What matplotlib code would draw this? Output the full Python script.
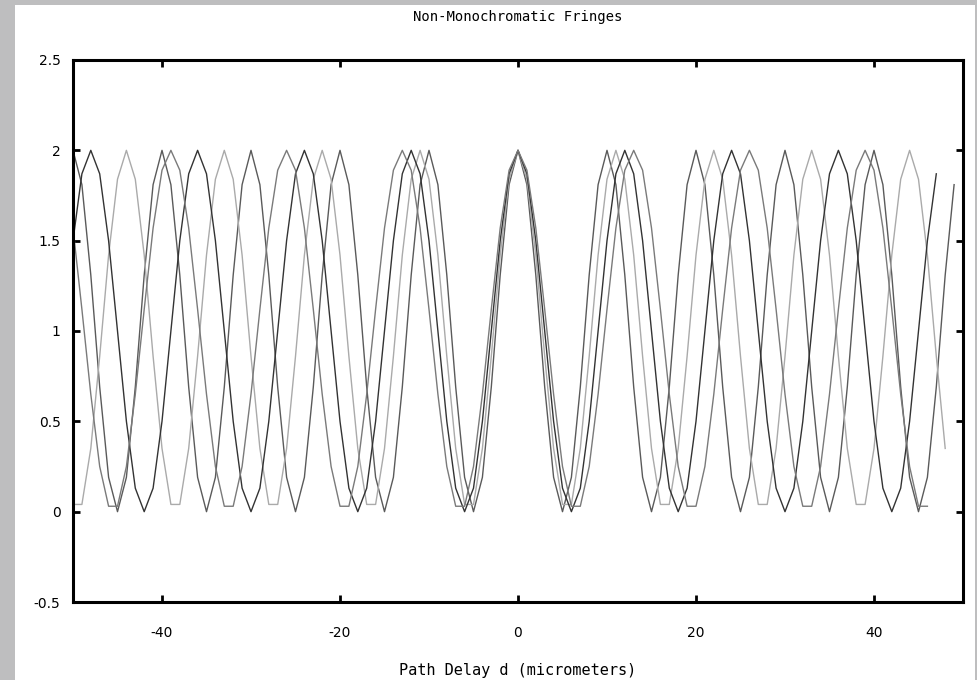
import numpy as np
import matplotlib.pyplot as plt
from matplotlib.patches import Rectangle

# fringe values, one list per wavelength (micrometers)
# every curve starts at d = -50, one sample per micrometer
fringe_10 = [
    2, 1.81, 1.31, 0.69, 0.19, 0, 0.19, 0.69, 1.31, 1.81,
    2, 1.81, 1.31, 0.69, 0.19, 0, 0.19, 0.69, 1.31, 1.81,
    2, 1.81, 1.31, 0.69, 0.19, 0, 0.19, 0.69, 1.31, 1.81,
    2, 1.81, 1.31, 0.69, 0.19, 0, 0.19, 0.69, 1.31, 1.81,
    2, 1.81, 1.31, 0.69, 0.19, 0, 0.19, 0.69, 1.31, 1.81,
    2, 1.81, 1.31, 0.69, 0.19, 0, 0.19, 0.69, 1.31, 1.81,
    2, 1.81, 1.31, 0.69, 0.19, 0, 0.19, 0.69, 1.31, 1.81,
    2, 1.81, 1.31, 0.69, 0.19, 0, 0.19, 0.69, 1.31, 1.81,
    2, 1.81, 1.31, 0.69, 0.19, 0, 0.19, 0.69, 1.31, 1.81,
    2, 1.81, 1.31, 0.69, 0.19, 0, 0.19, 0.69, 1.31, 1.81,
]

fringe_11 = [
    0.04, 0.04, 0.35, 0.86, 1.42, 1.84,
    2, 1.84, 1.42, 0.86, 0.35, 0.04, 0.04, 0.35, 0.86, 1.42, 1.84,
    2, 1.84, 1.42, 0.86, 0.35, 0.04, 0.04, 0.35, 0.86, 1.42, 1.84,
    2, 1.84, 1.42, 0.86, 0.35, 0.04, 0.04, 0.35, 0.86, 1.42, 1.84,
    2, 1.84, 1.42, 0.86, 0.35, 0.04, 0.04, 0.35, 0.86, 1.42, 1.84,
    2, 1.84, 1.42, 0.86, 0.35, 0.04, 0.04, 0.35, 0.86, 1.42, 1.84,
    2, 1.84, 1.42, 0.86, 0.35, 0.04, 0.04, 0.35, 0.86, 1.42, 1.84,
    2, 1.84, 1.42, 0.86, 0.35, 0.04, 0.04, 0.35, 0.86, 1.42, 1.84,
    2, 1.84, 1.42, 0.86, 0.35, 0.04, 0.04, 0.35, 0.86, 1.42, 1.84,
    2, 1.84, 1.42, 0.86, 0.35,
]

fringe_12 = [
    1.5, 1.87,
    2, 1.87, 1.5, 1, 0.5, 0.13, 0, 0.13, 0.5, 1, 1.5, 1.87,
    2, 1.87, 1.5, 1, 0.5, 0.13, 0, 0.13, 0.5, 1, 1.5, 1.87,
    2, 1.87, 1.5, 1, 0.5, 0.13, 0, 0.13, 0.5, 1, 1.5, 1.87,
    2, 1.87, 1.5, 1, 0.5, 0.13, 0, 0.13, 0.5, 1, 1.5, 1.87,
    2, 1.87, 1.5, 1, 0.5, 0.13, 0, 0.13, 0.5, 1, 1.5, 1.87,
    2, 1.87, 1.5, 1, 0.5, 0.13, 0, 0.13, 0.5, 1, 1.5, 1.87,
    2, 1.87, 1.5, 1, 0.5, 0.13, 0, 0.13, 0.5, 1, 1.5, 1.87,
    2, 1.87, 1.5, 1, 0.5, 0.13, 0, 0.13, 0.5, 1, 1.5, 1.87,
]

fringe_13 = [
    1.57, 1.12, 0.65, 0.25, 0.03, 0.03, 0.25, 0.65, 1.12, 1.57, 1.89,
    2, 1.89, 1.57, 1.12, 0.65, 0.25, 0.03, 0.03, 0.25, 0.65, 1.12, 1.57, 1.89,
    2, 1.89, 1.57, 1.12, 0.65, 0.25, 0.03, 0.03, 0.25, 0.65, 1.12, 1.57, 1.89,
    2, 1.89, 1.57, 1.12, 0.65, 0.25, 0.03, 0.03, 0.25, 0.65, 1.12, 1.57, 1.89,
    2, 1.89, 1.57, 1.12, 0.65, 0.25, 0.03, 0.03, 0.25, 0.65, 1.12, 1.57, 1.89,
    2, 1.89, 1.57, 1.12, 0.65, 0.25, 0.03, 0.03, 0.25, 0.65, 1.12, 1.57, 1.89,
    2, 1.89, 1.57, 1.12, 0.65, 0.25, 0.03, 0.03, 0.25, 0.65, 1.12, 1.57, 1.89,
    2, 1.89, 1.57, 1.12, 0.65, 0.25, 0.03, 0.03,
]

d_start = -50
series = [fringe_10, fringe_11, fringe_12, fringe_13]
colors = ['#5a5a5a', '#aaaaaa', '#333333', '#7a7a7a']

x_ticks = [-40, -20, 0, 20, 40]
y_ticks = [-0.5, 0, 0.5, 1, 1.5, 2, 2.5]
y_tick_labels = ['-0.5', '0', '0.5', '1', '1.5', '2', '2.5']

plt.rcParams['axes.unicode_minus'] = False

fig = plt.figure(figsize=(9.77, 6.8), dpi=100)
fig.patch.set_facecolor('#bebebf')
# white sheet the plot sits on
fig.add_artist(Rectangle((15/977, 0), 960/977, 675/680, transform=fig.transFigure,
                         facecolor='white', edgecolor='none', zorder=0))

ax = fig.add_axes([73/977, 1 - 602/680, 890/977, 542/680])
ax.set_facecolor('white')

for vals, c in zip(series, colors):
    d = np.arange(d_start, d_start + len(vals))
    ax.plot(d, vals, color=c, linewidth=1.0)

ax.set_xlim(-50, 50)
ax.set_ylim(-0.5, 2.5)
ax.set_xticks(x_ticks)
ax.set_yticks(y_ticks)
ax.set_yticklabels(y_tick_labels)

for s in ax.spines.values():
    s.set_linewidth(2.2)
    s.set_color('black')
ax.tick_params(direction='in', length=5, width=2, top=True, right=True,
               labelsize=10, colors='black')
ax.tick_params(axis='x', pad=17)
ax.tick_params(axis='y', pad=9)

fig.text(518/977, 1 - 17/680, 'Non-Monochromatic Fringes', ha='center', va='center',
         family='DejaVu Sans Mono', fontsize=10)
fig.text(518/977, 1 - 671/680, 'Path Delay d (micrometers)', ha='center', va='center',
         family='DejaVu Sans Mono', fontsize=11)

plt.savefig('out.png', dpi=100, facecolor=fig.get_facecolor())
